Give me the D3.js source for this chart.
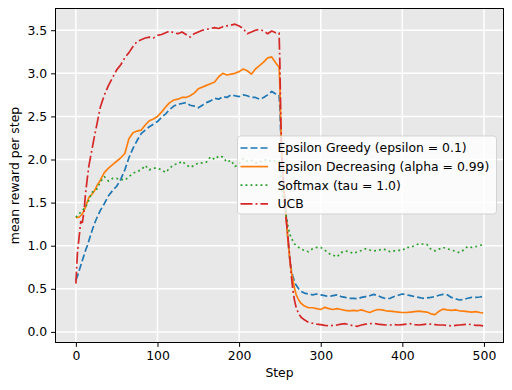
<!DOCTYPE html>
<html><head><meta charset="utf-8">
<script src="https://cdn.jsdelivr.net/npm/d3@7"></script>
<style>body{margin:0;background:#fff}svg{display:block;font-family:"DejaVu Sans",sans-serif}</style>
</head><body><svg id="c" width="512" height="390"></svg>
<script>
const steps=[0,2,4,6,8,10,12,14,16,18,20,23,26,
30,35,40,45,50,55,60,65,70,75,80,85,90,95,100,105,110,115,120,125,130,135,140,145,150,155,160,165,170,175,180,185,190,195,200,205,210,215,220,225,230,235,240,245,
249,250,251,252,253,254,
256,258,260,262,264,266,268,270,
273,276,
280,285,290,295,300,305,310,315,320,325,330,335,340,345,350,355,360,365,370,375,380,385,390,395,400,405,410,415,420,425,430,435,440,445,450,455,460,465,470,475,480,485,490,495,
499];

const epsGreedy=[0.60,0.65,0.71,0.77,0.83,0.89,0.95,1.00,1.06,1.12,1.18,1.26,1.33,
1.41,1.49,1.58,1.64,1.69,1.77,1.88,2.02,2.13,2.22,2.30,2.34,2.38,2.41,2.44,2.49,2.53,2.58,2.62,2.64,2.65,2.66,2.63,2.62,2.60,2.63,2.66,2.68,2.71,2.70,2.73,2.72,2.75,2.74,2.73,2.75,2.74,2.72,2.72,2.70,2.72,2.75,2.79,2.76,
2.75,2.60,2.30,2.05,1.90,1.75,
1.55,1.30,1.05,0.85,0.72,0.64,0.58,0.54,
0.50,0.47,
0.45,0.44,0.43,0.44,0.43,0.42,0.41,0.42,0.43,0.41,0.40,0.39,0.39,0.385,0.40,0.41,0.42,0.435,0.42,0.40,0.385,0.39,0.41,0.425,0.44,0.43,0.42,0.41,0.40,0.39,0.395,0.40,0.41,0.425,0.435,0.43,0.40,0.385,0.37,0.375,0.39,0.40,0.40,0.405,
0.41];

const epsDecreasing=[1.32,1.33,1.33,1.35,1.37,1.41,1.45,1.51,1.56,1.58,1.60,1.64,1.70,
1.76,1.85,1.90,1.94,1.98,2.02,2.07,2.24,2.31,2.33,2.34,2.40,2.45,2.47,2.50,2.55,2.61,2.66,2.69,2.70,2.72,2.72,2.74,2.77,2.82,2.84,2.86,2.88,2.90,2.96,3.00,2.98,2.99,3.00,3.02,3.05,3.03,2.99,3.05,3.09,3.13,3.18,3.19,3.12,
3.07,2.85,2.45,2.15,1.95,1.80,
1.52,1.28,1.05,0.85,0.70,0.60,0.50,0.43,
0.37,0.33,
0.30,0.28,0.28,0.27,0.26,0.285,0.27,0.26,0.27,0.26,0.25,0.245,0.25,0.245,0.255,0.24,0.225,0.245,0.26,0.255,0.245,0.24,0.235,0.23,0.225,0.225,0.23,0.235,0.24,0.235,0.23,0.21,0.20,0.24,0.265,0.255,0.25,0.255,0.245,0.24,0.235,0.23,0.235,0.225,
0.22];

const softmax=[1.33,1.35,1.37,1.39,1.41,1.43,1.45,1.49,1.53,1.58,1.62,1.64,1.66,
1.74,1.80,1.75,1.78,1.78,1.77,1.76,1.80,1.84,1.86,1.88,1.93,1.88,1.90,1.90,1.88,1.85,1.90,1.94,1.95,1.98,1.94,1.91,1.93,1.96,1.96,1.97,2.03,2.00,2.04,2.03,1.97,1.99,1.92,1.95,2.01,1.98,1.99,1.96,1.97,1.99,2.00,1.97,1.99,
1.98,1.90,1.78,1.68,1.60,1.54,
1.45,1.33,1.22,1.14,1.09,1.05,1.02,1.00,
0.98,0.96,
0.945,0.93,0.965,0.98,0.98,0.95,0.91,0.89,0.87,0.92,0.94,0.93,0.91,0.93,0.945,0.965,0.95,0.94,0.945,0.96,0.955,0.93,0.94,0.945,0.945,0.98,0.98,1.00,1.02,1.02,1.015,0.96,0.94,0.96,0.98,0.965,0.95,0.935,0.92,0.95,0.99,0.98,0.99,1.00,
1.02];

const ucb=[0.56,0.93,1.10,1.28,1.27,1.40,1.62,1.78,1.93,2.03,2.13,2.28,2.42,
2.61,2.75,2.86,2.95,3.04,3.10,3.18,3.24,3.31,3.37,3.39,3.41,3.42,3.41,3.44,3.45,3.47,3.49,3.47,3.46,3.48,3.45,3.42,3.46,3.48,3.50,3.51,3.52,3.53,3.52,3.54,3.55,3.56,3.57,3.55,3.52,3.46,3.48,3.50,3.51,3.49,3.46,3.49,3.47,
3.47,3.10,2.50,2.15,1.95,1.80,
1.50,1.28,1.08,0.88,0.65,0.48,0.36,0.28,
0.21,0.17,
0.14,0.11,0.10,0.09,0.085,0.075,0.07,0.075,0.08,0.09,0.095,0.085,0.07,0.065,0.08,0.09,0.095,0.10,0.09,0.085,0.08,0.08,0.085,0.08,0.085,0.09,0.095,0.085,0.08,0.085,0.09,0.09,0.085,0.08,0.08,0.075,0.07,0.075,0.08,0.085,0.09,0.085,0.075,0.075,
0.07];

const seriesNames=["Epsilon Greedy (epsilon = 0.1)","Epsilon Decreasing (alpha = 0.99)","Softmax (tau = 1.0)","UCB"];
const xTicks=[0,100,200,300,400,500];
const yTicks=[0,0.5,1,1.5,2,2.5,3,3.5];
const xLabel="Step", yLabel="mean reward per step";

const colors=["#1f77b4","#ff7f0e","#2ca02c","#d62728"];
const dashes=["7,3","none","1.9,3.1","12,3,1.9,3"];
const allSeries=[epsGreedy,epsDecreasing,softmax,ucb];

const L=55.5,R=503.5,T=8.5,B=342.5;
const x=d3.scaleLinear().domain([-24.95,523.95]).range([L,R]);
const y=d3.scaleLinear().domain([-0.123,3.752]).range([B,T]);
const svg=d3.select("#c");
const fs="12.4px";

svg.append("rect").attr("x",L).attr("y",T).attr("width",R-L).attr("height",B-T).attr("fill","#e8e8e8");
const grid=svg.append("g").attr("stroke","#fff").attr("stroke-width",1.5);
xTicks.forEach(t=>grid.append("line").attr("x1",x(t)).attr("x2",x(t)).attr("y1",T).attr("y2",B));
yTicks.forEach(t=>grid.append("line").attr("y1",y(t)).attr("y2",y(t)).attr("x1",L).attr("x2",R));

const line=d3.line().x((d,i)=>x(steps[i])).y(d=>y(d));
allSeries.forEach((s,k)=>{
  svg.append("path").datum(s).attr("d",line).attr("fill","none")
    .attr("stroke",colors[k]).attr("stroke-width",1.7)
    .attr("stroke-dasharray",dashes[k]).attr("stroke-linejoin","round");
});

const xa=svg.append("g").attr("transform",`translate(0,${B})`)
  .call(d3.axisBottom(x).tickValues(xTicks).tickFormat(d3.format("d")).tickSize(4.4).tickPadding(4));
const ya=svg.append("g").attr("transform",`translate(${L},0)`)
  .call(d3.axisLeft(y).tickValues(yTicks).tickFormat(d3.format(".1f")).tickSize(4.4).tickPadding(4));
[xa,ya].forEach(a=>{
  a.select(".domain").remove();
  a.selectAll("line").attr("stroke","#000").attr("stroke-width",1);
  a.selectAll("text").attr("fill","#000").style("font-size",fs).style("font-family","DejaVu Sans");
});

svg.append("rect").attr("x",L).attr("y",T).attr("width",R-L).attr("height",B-T)
  .attr("fill","none").attr("stroke","#000").attr("stroke-width",1);

svg.append("text").attr("x",(L+R)/2).attr("y",377).attr("text-anchor","middle")
  .style("font-size",fs).text(xLabel);
svg.append("text").attr("transform",`translate(19,${(T+B)/2}) rotate(-90)`).attr("text-anchor","middle")
  .style("font-size",fs).text(yLabel);

const lg=svg.append("g");
lg.append("rect").attr("x",237.5).attr("y",136).attr("width",259).attr("height",78).attr("rx",3)
  .attr("fill","#fff").attr("fill-opacity",0.8).attr("stroke","#ccc").attr("stroke-opacity",0.8).attr("stroke-width",1);
seriesNames.forEach((n,k)=>{
  const cy=148+k*18.6;
  lg.append("line").attr("x1",240.5).attr("x2",268).attr("y1",cy).attr("y2",cy)
    .attr("stroke",colors[k]).attr("stroke-width",1.7).attr("stroke-dasharray",dashes[k]);
  lg.append("text").attr("x",277.5).attr("y",cy).attr("dy","0.36em").style("font-size",fs).attr("fill","#000").text(n);
});
</script></body></html>
